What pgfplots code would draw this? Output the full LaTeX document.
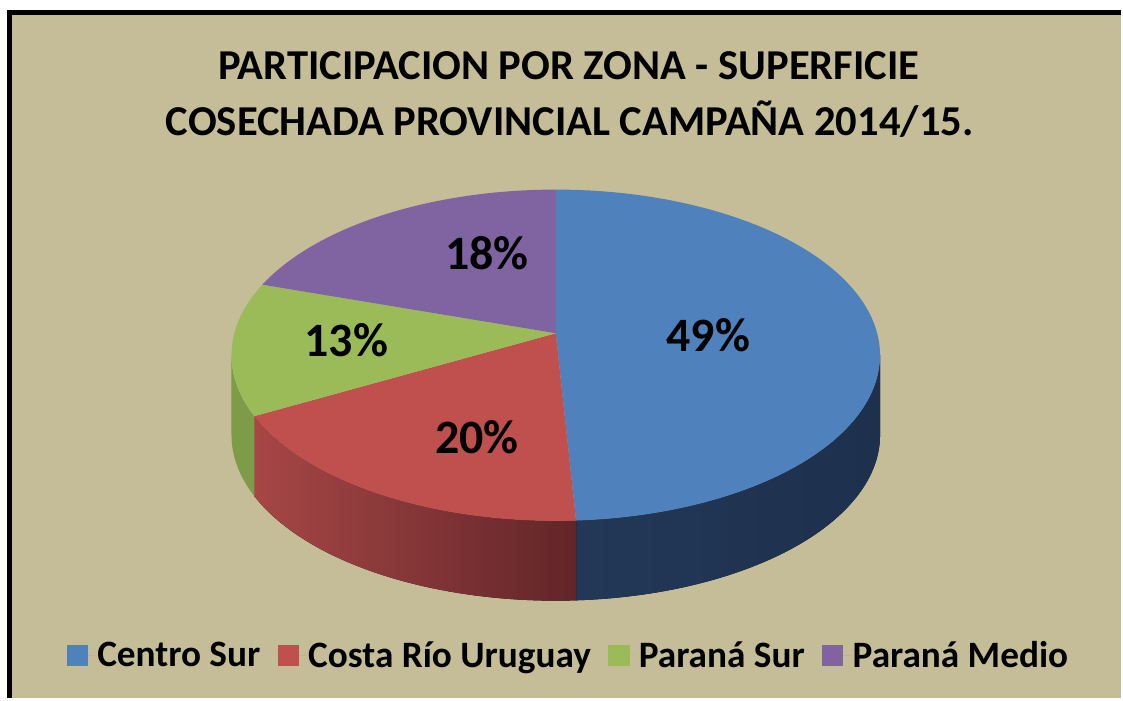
\documentclass[border=0pt]{standalone}
\usepackage{pgfplots}
\pgfplotsset{compat=1.18}
\usepgfplotslibrary{fillbetween}
\usepackage{fontspec}
\setmainfont{Carlito}
\definecolor{bg}{HTML}{C4BD97}
\definecolor{cB}{HTML}{4F81BD}
\definecolor{cR}{HTML}{C0504D}
\definecolor{cG}{HTML}{9BBB59}
\definecolor{cP}{HTML}{8064A2}
\definecolor{sBL}{HTML}{233858}
\definecolor{sBR}{HTML}{1D304D}
\definecolor{sRL}{HTML}{A74646}
\definecolor{sRR}{HTML}{622528}
\definecolor{sG}{HTML}{7E9B47}
% data: share of harvested area by zone (%)
\def\pA{49}\def\pB{20}\def\pC{13}\def\pD{18}
\def\cx{557}\def\cy{356}\def\rx{325}\def\ry{166}\def\ay{334}\def\dep{80}
\begin{document}
\begin{tikzpicture}
\fill[white] (0,0) rectangle (842.25pt,525pt);
\fill[bg] (7pt,0) rectangle (842.25pt,515pt);
\draw[line width=3.75pt] (7.125pt,0) -- (7.125pt,515.625pt) -- (842.25pt,515.625pt);
\pgfmathsetmacro\aA{3.6*\pA}
\pgfmathsetmacro\aB{3.6*(\pA+\pB)}
\pgfmathsetmacro\aC{3.6*(\pA+\pB+\pC)}
\begin{axis}[at={(0,0)}, anchor=south west,
  width=842.25pt, height=525pt, scale only axis,
  xmin=0, xmax=1123, ymin=0, ymax=700, y dir=reverse,
  hide axis, clip=false,
  legend columns=4,
  legend image code/.code={\fill[#1] (0pt,-8pt) rectangle (16pt,8pt); \path (0pt,0pt) -- (21pt,0pt);},
  legend style={at={(0.5076,0.0614)}, anchor=center, draw=none, fill=none,
    font=\fontsize{28pt}{31pt}\selectfont\bfseries,
    /tikz/every even column/.append style={column sep=11pt}},
]
% side walls
\addplot[name path=BT, draw=none, domain=90:\aA, samples=60, forget plot] ({\cx+\rx*sin(x)},{\cy-\ry*cos(x)});
\addplot[name path=BB, draw=none, domain=90:\aA, samples=60, forget plot] ({\cx+\rx*sin(x)},{\cy-\ry*cos(x)+\dep});
\addplot[left color=sBL, right color=sBR, draw=none, forget plot] fill between[of=BT and BB, on layer=main];
\addplot[name path=RT, draw=none, domain=\aA:\aB, samples=60, forget plot] ({\cx+\rx*sin(x)},{\cy-\ry*cos(x)});
\addplot[name path=RB, draw=none, domain=\aA:\aB, samples=60, forget plot] ({\cx+\rx*sin(x)},{\cy-\ry*cos(x)+\dep});
\addplot[left color=sRL, right color=sRR, draw=none, forget plot] fill between[of=RT and RB, on layer=main];
\addplot[name path=GT, draw=none, domain=\aB:270, samples=30, forget plot] ({\cx+\rx*sin(x)},{\cy-\ry*cos(x)});
\addplot[name path=GB, draw=none, domain=\aB:270, samples=30, forget plot] ({\cx+\rx*sin(x)},{\cy-\ry*cos(x)+\dep});
\addplot[fill=sG, draw=none, forget plot] fill between[of=GT and GB, on layer=main];
% top slices
\addplot[fill=cB, draw=none, domain=0:\aA, samples=120] ({\cx+\rx*sin(x)},{\cy-\ry*cos(x)}) -- (axis cs:\cx,\ay) -- cycle;
\addlegendentry{Centro Sur}
\addplot[fill=cR, draw=none, domain=\aA:\aB, samples=60] ({\cx+\rx*sin(x)},{\cy-\ry*cos(x)}) -- (axis cs:\cx,\ay) -- cycle;
\addlegendentry{Costa Río Uruguay}
\addplot[fill=cG, draw=none, domain=\aB:\aC, samples=50] ({\cx+\rx*sin(x)},{\cy-\ry*cos(x)}) -- (axis cs:\cx,\ay) -- cycle;
\addlegendentry{Paraná Sur}
\addplot[fill=cP, draw=none, domain=\aC:360, samples=60] ({\cx+\rx*sin(x)},{\cy-\ry*cos(x)}) -- (axis cs:\cx,\ay) -- cycle;
\addlegendentry{Paraná Medio}
% labels
\node[anchor=base, font=\fontsize{36pt}{40pt}\selectfont\bfseries] at (axis cs:710,352) {49\%};
\node[anchor=base, font=\fontsize{36pt}{40pt}\selectfont\bfseries] at (axis cs:478,455) {20\%};
\node[anchor=base, font=\fontsize{36pt}{40pt}\selectfont\bfseries] at (axis cs:347,357) {13\%};
\node[anchor=base, font=\fontsize{36pt}{40pt}\selectfont\bfseries] at (axis cs:488,270) {18\%};
% title
\node[anchor=base, font=\fontsize{32pt}{36pt}\selectfont\bfseries] at (axis cs:570,80) {PARTICIPACION POR ZONA - SUPERFICIE};
\node[anchor=base, font=\fontsize{32pt}{36pt}\selectfont\bfseries] at (axis cs:571,136) {COSECHADA PROVINCIAL CAMPAÑA 2014/15.};
\end{axis}
\end{tikzpicture}
\end{document}
